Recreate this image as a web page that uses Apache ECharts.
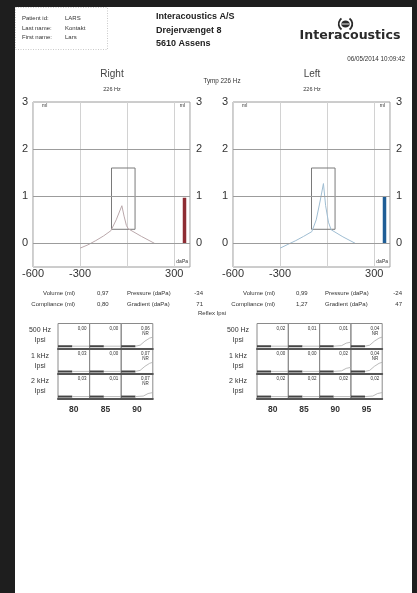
<!DOCTYPE html>
<html><head><meta charset="utf-8">
<script src="https://cdn.jsdelivr.net/npm/echarts@6/dist/echarts.min.js"></script>
<style>
html,body{margin:0;padding:0;width:417px;height:593px;background:#1e1e1e;overflow:hidden}
#paper{position:absolute;left:15px;top:7px;width:397px;height:586px;background:#fff}
#chart{position:absolute;left:0;top:0;width:417px;height:593px}
</style></head><body><div id="paper"></div><div id="chart"></div>
<script>
// ---------- data ----------
const pressureTicks = { min: -600, max: 400, step: 300 };
const complianceTicks = { min: -0.5, max: 3, step: 0.5 };
const rightCurve = [[-300,-0.1],[-250,-0.03],[-200,0.06],[-150,0.16],[-104,0.27],[-70,0.5],[-34,0.8],[-20,0.58],[-5,0.38],[7,0.31],[90,0.15],[175,0.0]];
const leftCurve  = [[-300,-0.1],[-250,-0.02],[-200,0.06],[-150,0.15],[-98,0.25],[-70,0.5],[-45,0.9],[-24,1.27],[-10,0.8],[8,0.45],[25,0.29],[100,0.14],[180,0.0]];
const volumePressure = 365;
const rightVolume = [[volumePressure,0],[volumePressure,0.97]];
const leftVolume  = [[volumePressure,0],[volumePressure,0.99]];
const normalPressure = [-100, 50];
const normalCompliance = [0.3, 1.6];
const gridLevels = [0, 1, 2];

const resultNamesA = ['Volume (ml)', 'Compliance (ml)'];
const resultNamesB = ['Pressure (daPa)', 'Gradient (daPa)'];
const rightResultsA = ['0,97', '0,80'];
const rightResultsB = ['-34', '71'];
const leftResultsA = ['0,99', '1,27'];
const leftResultsB = ['-24', '47'];

const reflexRows = ['500 Hz', '1 kHz', '2 kHz'];
const reflexMode = 'Ipsi';
const rightLevels = ['80', '85', '90'];
const leftLevels = ['80', '85', '90', '95'];
const rightReflexValues = [['0,00','0,00','0,06'],['0,03','0,00','0,07'],['0,03','0,01','0,07']];
const leftReflexValues  = [['0,02','0,01','0,01','0,04'],['0,00','0,00','0,02','0,04'],['0,02','0,02','0,02','0,02']];
const rightReflexNotes = [['','','NR'],['','','NR'],['','','NR']];
const leftReflexNotes  = [['','','','NR'],['','','','NR'],['','','','']];
const reflexMarker = [[0,0.1],[0.45,0.1]];
const traceFlat  = [[0.45,0.1],[1,0.1]];
const traceRise  = [[0.45,0.1],[0.6,0.14],[0.75,0.3],[0.9,0.42],[1,0.46]];
const traceSmall = [[0.45,0.1],[0.7,0.12],[0.85,0.22],[1,0.26]];
const rightReflexTraces = [[traceFlat,traceFlat,traceRise],[traceFlat,traceFlat,traceRise],[traceFlat,traceFlat,traceSmall]];
const leftReflexTraces  = [[traceFlat,traceFlat,traceSmall,traceRise],[traceFlat,traceFlat,traceSmall,traceRise],[traceFlat,traceFlat,traceFlat,traceSmall]];

// ---------- layout ----------
const FONT = '"Liberation Sans", Arial, sans-serif';
const TXT = '#333';
const grids = [], xAxes = [], yAxes = [], series = [], graphics = [];

function text(t, x, y, size, opts) {
  opts = opts || {};
  const al = opts.align || 'left';
  graphics.push({ type: 'text', silent: true, z: 10, style: {
    text: t, x: x, y: y, fontSize: size, fontFamily: opts.family || FONT,
    fontWeight: opts.weight || 'normal', fill: opts.color || TXT,
    textAlign: al, align: al, textVerticalAlign: 'middle', verticalAlign: 'middle'
  }});
}

function isInt(v) { return Math.abs(v - Math.round(v)) < 1e-6; }

function tymp(left, curve, curveColor, volume, volColor) {
  const g = grids.length;
  grids.push({ left: left, top: 102, width: 157, height: 165, show: true,
    borderColor: '#9a9a9a', borderWidth: 1, backgroundColor: 'transparent' });
  const xi = xAxes.length;
  xAxes.push({ type: 'value', gridIndex: g, min: pressureTicks.min, max: pressureTicks.max, interval: pressureTicks.step,
    axisLine: { show: false }, axisTick: { show: false },
    axisLabel: { fontSize: 11, color: TXT, fontFamily: FONT, margin: 1,
      formatter: v => (v === 0 || v === pressureTicks.max) ? '' : String(v) },
    splitLine: { show: true, lineStyle: { color: '#d2d2d2', width: 1 } } });
  const yi = yAxes.length;
  ['left', 'right'].forEach(pos => {
    yAxes.push({ type: 'value', gridIndex: g, position: pos, min: complianceTicks.min, max: complianceTicks.max,
      interval: complianceTicks.step, axisLine: { show: false }, axisTick: { show: false }, splitLine: { show: false },
      axisLabel: { fontSize: 11, color: TXT, fontFamily: FONT, margin: pos === 'left' ? 5 : 6,
        formatter: v => isInt(v) ? String(Math.round(v)) : '' } });
  });
  series.push({ type: 'line', xAxisIndex: xi, yAxisIndex: yi, data: curve, symbol: 'none', silent: true,
    lineStyle: { color: curveColor, width: 1 },
    markLine: { silent: true, symbol: 'none', label: { show: false },
      lineStyle: { color: '#9c9c9c', width: 1.2, type: 'solid' },
      data: gridLevels.map(v => ({ yAxis: v })) },
    markArea: { silent: true, itemStyle: { color: 'rgba(0,0,0,0)', borderColor: '#7a7a7a', borderWidth: 1 },
      data: [[{ coord: [normalPressure[0], normalCompliance[0]] }, { coord: [normalPressure[1], normalCompliance[1]] }]] } });
  series.push({ type: 'line', xAxisIndex: xi, yAxisIndex: yi, data: volume, symbol: 'none', silent: true,
    lineStyle: { color: volColor, width: 3.5 } });
  text('ml', left + 9, 106, 5);
  text('ml', left + 152, 106, 5, { align: 'right' });
  text('daPa', left + 155, 262, 5, { align: 'right' });
}

tymp(33, rightCurve, '#baa8ab', rightVolume, '#8e2c33');
tymp(233, leftCurve, '#9fbdd2', leftVolume, '#1f5e96');

function reflex(x0, colW, levels, values, notes, traces, labelX) {
  const y0 = 323.5, rowH = 25.2;
  reflexRows.forEach((rowName, r) => {
    text(rowName, labelX, y0 + r * rowH + 7, 7, { align: 'center' });
    text(reflexMode, labelX, y0 + r * rowH + 17, 7, { align: 'center' });
    levels.forEach((lvl, c) => {
      const g = grids.length;
      const gl = x0 + c * colW, gt = y0 + r * rowH;
      grids.push({ left: gl, top: gt, width: colW, height: rowH, show: true,
        borderColor: '#8a8a8a', borderWidth: 1, backgroundColor: 'transparent' });
      const xi = xAxes.length;
      xAxes.push({ type: 'value', gridIndex: g, min: 0, max: 1,
        axisLine: { show: true, onZero: false, lineStyle: { color: '#555', width: 2 } },
        axisTick: { show: false }, axisLabel: { show: false }, splitLine: { show: false },
        name: r === reflexRows.length - 1 ? lvl : '', nameLocation: 'middle', nameGap: 6,
        nameTextStyle: { fontSize: 8.5, fontWeight: 'bold', color: TXT, fontFamily: FONT } });
      const yi = yAxes.length;
      yAxes.push({ type: 'value', gridIndex: g, min: 0, max: 1, show: false });
      series.push({ type: 'line', xAxisIndex: xi, yAxisIndex: yi, data: reflexMarker, symbol: 'none', silent: true,
        lineStyle: { color: '#444', width: 2 } });
      series.push({ type: 'line', xAxisIndex: xi, yAxisIndex: yi, data: traces[r][c], symbol: 'none', silent: true,
        lineStyle: { color: '#aaa', width: 0.8 } });
      text(values[r][c], gl + colW - 3, gt + 5, 4.5, { align: 'right' });
      if (notes[r][c]) text(notes[r][c], gl + colW - 4, gt + 10, 4.5, { align: 'right' });
    });
  });
}
reflex(58, 31.6, rightLevels, rightReflexValues, rightReflexNotes, rightReflexTraces, 40);
reflex(257, 31.3, leftLevels, leftReflexValues, leftReflexNotes, leftReflexTraces, 238);

// header
graphics.push({ type: 'rect', silent: true, shape: { x: 15.5, y: 7.5, width: 92, height: 42 },
  style: { fill: null, stroke: '#bbb', lineWidth: 0.8, lineDash: [1, 1.5] } });
text('Patient id:', 22, 18, 6); text('LARS', 65, 18, 6);
text('Last name:', 22, 28, 6); text('Kontakt', 65, 28, 6);
text('First name:', 22, 37.5, 6); text('Lars', 65, 37.5, 6);
text('Interacoustics A/S', 156, 17, 9, { weight: 'bold', color: '#222' });
text('Drejervænget 8', 156, 31, 9, { weight: 'bold', color: '#222' });
text('5610 Assens', 156, 43.5, 9, { weight: 'bold', color: '#222' });
graphics.push({ type: 'ellipse', silent: true, shape: { cx: 345.5, cy: 24, rx: 4.3, ry: 3.6 }, style: { fill: '#2a2a2a' } });
graphics.push({ type: 'line', silent: true, shape: { x1: 341.5, y1: 24, x2: 349.5, y2: 24 }, style: { stroke: '#fff', lineWidth: 0.9 } });
graphics.push({ type: 'arc', silent: true, shape: { cx: 345.5, cy: 24, r: 6.8, startAngle: Math.PI * 0.7, endAngle: Math.PI * 1.3 }, style: { fill: null, stroke: '#2a2a2a', lineWidth: 1.8 } });
graphics.push({ type: 'arc', silent: true, shape: { cx: 345.5, cy: 24, r: 6.8, startAngle: -Math.PI * 0.3, endAngle: Math.PI * 0.3 }, style: { fill: null, stroke: '#2a2a2a', lineWidth: 1.8 } });
text('Interacoustics', 350, 35.5, 12.6, { weight: 'bold', color: '#2a2a2a', family: '"DejaVu Sans", sans-serif', align: 'center' });
text('06/05/2014 10:09:42', 405, 59.5, 6.3, { align: 'right' });
text('Right', 112, 74.5, 10, { align: 'center', color: '#444' });
text('226 Hz', 112, 89, 5.5, { align: 'center' });
text('Left', 312, 74.5, 10, { align: 'center', color: '#444' });
text('226 Hz', 312, 89, 5.5, { align: 'center' });
text('Tymp 226 Hz', 222, 81, 6.3, { align: 'center' });

// results
function results(nameAEnd, valA, nameBStart, valBEnd, resA, resB) {
  [293, 304].forEach((y, i) => {
    text(resultNamesA[i], nameAEnd, y, 6, { align: 'right' });
    text(resA[i], valA, y, 6);
    text(resultNamesB[i], nameBStart, y, 6);
    text(resB[i], valBEnd, y, 6, { align: 'right' });
  });
}
results(75, 97, 127, 203, rightResultsA, rightResultsB);
results(275, 296, 325, 402, leftResultsA, leftResultsB);
text('Reflex Ipsi', 212, 313.5, 6, { align: 'center' });

const chart = echarts.init(document.getElementById('chart'), null, { renderer: 'canvas' });
chart.setOption({
  animation: false,
  backgroundColor: 'transparent',
  grid: grids, xAxis: xAxes, yAxis: yAxes, series: series, graphic: graphics
});
</script></body></html>
